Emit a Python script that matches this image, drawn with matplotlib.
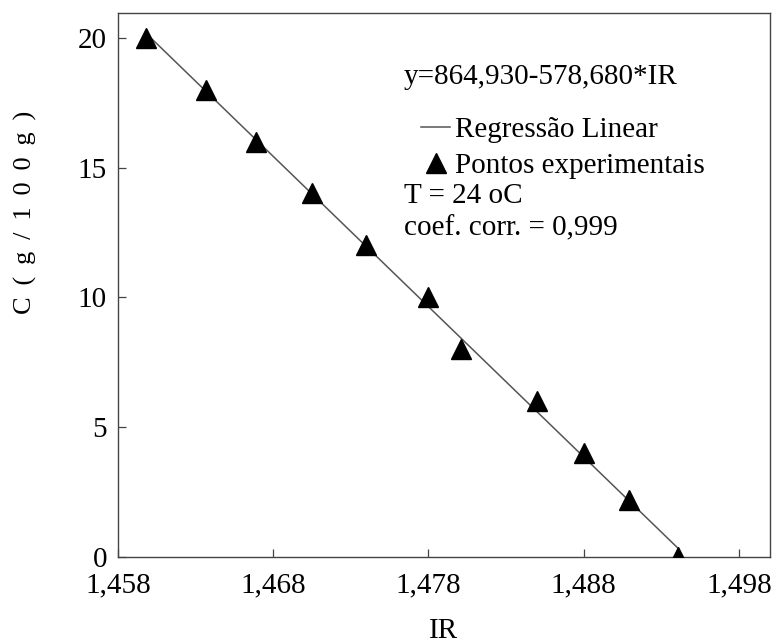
import numpy as np
import matplotlib
matplotlib.use("Agg")
import matplotlib.pyplot as plt
from matplotlib.lines import Line2D

# Experimental points: refractive index vs. concentration
ir_values = [1.4598, 1.4637, 1.4669, 1.4705, 1.4740, 1.4780, 1.4801,
             1.4850, 1.4880, 1.4909, 1.4941]
conc_values = [20, 18, 16, 14, 12, 10, 8, 6, 4, 2.2, 0]

# Linear regression coefficients  C = a - b * IR
coef_a = 864.930
coef_b = 578.680

x_ticks = [1.458, 1.468, 1.478, 1.488, 1.498]
x_tick_labels = ["1,458", "1,468", "1,478", "1,488", "1,498"]
y_ticks = [0, 5, 10, 15, 20]

plt.rcParams["font.family"] = ["Liberation Serif", "DejaVu Serif"]

fig = plt.figure(figsize=(7.79, 6.44), dpi=100)
ax = fig.add_axes([0.1515, 0.1351, 0.8369, 0.8447])

ir = np.array(ir_values)
conc = np.array(conc_values)

xfit = np.array([ir.min(), ir.max()])
yfit = coef_a - coef_b * xfit
ax.plot(xfit, yfit, color="#555555", lw=1.1, zorder=2)
ax.plot(ir, conc, linestyle="none", marker="^", ms=15,
        color="black", zorder=3)

ax.set_xlim(1.458, 1.500)
ax.set_ylim(0, 20.95)
ax.set_xticks(x_ticks)
ax.set_xticklabels(x_tick_labels)
ax.set_yticks(y_ticks)

ax.tick_params(direction="in", length=6, width=0.9, color="#444444",
               labelsize=21)
ax.tick_params(axis="x", pad=11)
ax.tick_params(axis="y", pad=8)
for s in ax.spines.values():
    s.set_color("#444444")
    s.set_linewidth(1.0)

ax.set_xlabel("IR", fontsize=21, labelpad=14)
ax.set_ylabel("C \u2009( \u2009g \u2009/ \u20091 \u20090 \u20090 \u2009g \u2009)",
              fontsize=19)
ax.yaxis.set_label_coords(-0.124, 0.634)

def axfrac(px, py):
    # figure pixel position -> axes fraction
    l, r, t, b = 118, 770, 13, 557
    return (px - l) / (r - l), (b - py) / (b - t)

txt_kw = dict(transform=ax.transAxes, fontsize=21, va="center", ha="left")
ax.text(*axfrac(404, 77), "y=864,930-578,680*IR", **txt_kw)
ax.text(*axfrac(404, 196), "T = 24 oC", **txt_kw)
ax.text(*axfrac(404, 228), "coef. corr. = 0,999", **txt_kw)

h_line = Line2D([], [], color="#555555", lw=1.1)
h_pts = Line2D([], [], linestyle="none", marker="^", ms=14, color="black")
ax.legend([h_line, h_pts], ["Regressão Linear", "Pontos experimentais"],
          loc="upper left", bbox_to_anchor=axfrac(421, 117),
          frameon=False, fontsize=21, handlelength=1.0, handletextpad=0.15,
          labelspacing=0.32, borderpad=0, borderaxespad=0)

fig.savefig("out.png", dpi=100)
